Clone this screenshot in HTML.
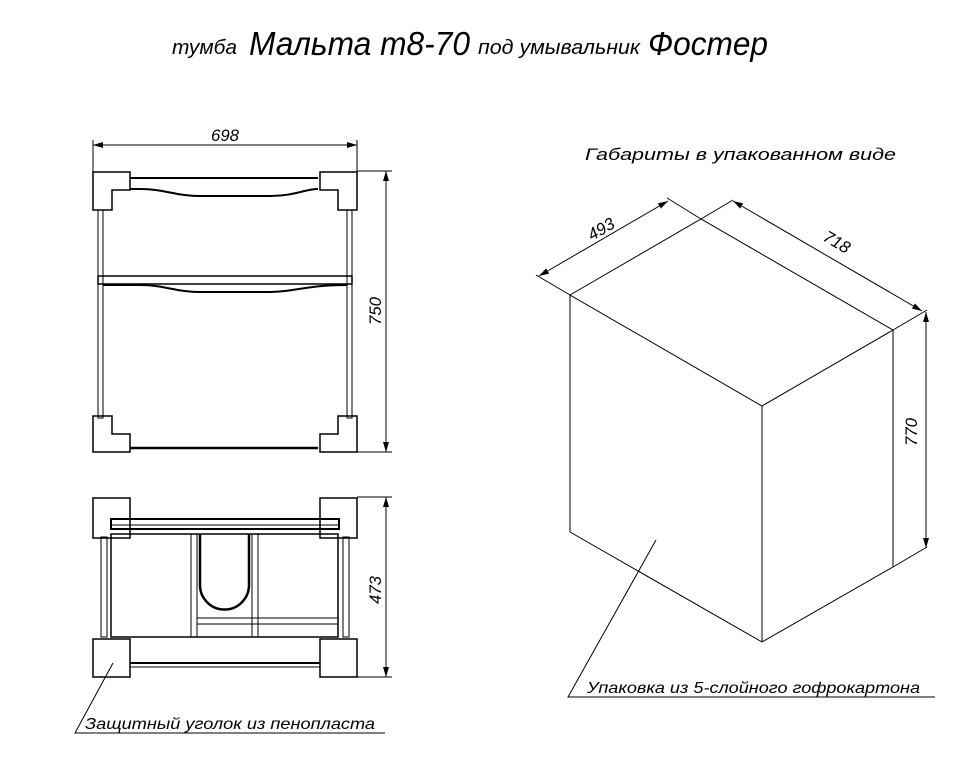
<!DOCTYPE html>
<html><head><meta charset="utf-8"><style>
html,body{margin:0;padding:0;background:#fff;}
svg{display:block;font-family:"Liberation Sans","Noto Sans CJK SC",sans-serif;font-style:italic;}
</style></head><body>
<svg width="980" height="761" viewBox="0 0 980 761" xmlns="http://www.w3.org/2000/svg">
<defs>
<marker id="ar" viewBox="0 0 10 6" refX="10" refY="3" markerWidth="10" markerHeight="6" orient="auto-start-reverse" markerUnits="userSpaceOnUse"><path d="M0,0 L10,3 L0,6 z" fill="#000"/></marker>
</defs>
<rect width="980" height="761" fill="#fff"/>
<!-- title -->
<text x="172" y="54" font-size="20" textLength="65" lengthAdjust="spacingAndGlyphs">тумба</text>
<text x="249" y="55" font-size="33" textLength="221" lengthAdjust="spacingAndGlyphs">Мальта т8-70</text>
<text x="478" y="54" font-size="20" textLength="162" lengthAdjust="spacingAndGlyphs">под умывальник</text>
<text x="648" y="55" font-size="33" textLength="120" lengthAdjust="spacingAndGlyphs">Фостер</text>
<text x="585" y="160" font-size="17" textLength="311" lengthAdjust="spacingAndGlyphs">Габариты в упакованном виде</text>

<g stroke="#000" fill="none" stroke-width="1">
<!-- top view dims -->
<line x1="93" y1="140" x2="93" y2="172"/><line x1="357" y1="140" x2="357" y2="172"/>
<line x1="93" y1="145" x2="357" y2="145" marker-start="url(#ar)" marker-end="url(#ar)"/>
<line x1="357" y1="171" x2="392" y2="171"/><line x1="357" y1="452" x2="392" y2="452"/>
<line x1="386" y1="171" x2="386" y2="452" marker-start="url(#ar)" marker-end="url(#ar)"/>
<!-- top view body -->
<line x1="130" y1="178" x2="318" y2="178" stroke-width="2"/>
<path d="M130,189 L140,189 C165,189 175,196 200,196 L270,196 C295,196 305,189 318,189" stroke-width="2"/>
<rect x="98" y="210" width="5" height="208"/><rect x="347" y="210" width="5" height="208"/>
<rect x="98" y="276" width="254" height="8" stroke-width="1.5"/>
<line x1="103" y1="276" x2="103" y2="284"/><line x1="347" y1="276" x2="347" y2="284"/>
<path d="M103,285 L140,285 C165,285 175,292 200,292 L270,292 C295,292 305,285 347,285" stroke-width="2"/>
<line x1="130" y1="448" x2="318" y2="448" stroke-width="2.5"/>
<!-- corners top -->
<path d="M93,172 H130 V190 H112 V210 H93 Z" stroke-width="1.5"/>
<path d="M357,172 H320 V190 H338 V210 H357 Z" stroke-width="1.5"/>
<path d="M93,452 H130 V434 H112 V416 H93 Z" stroke-width="1.5"/>
<path d="M357,452 H320 V434 H338 V416 H357 Z" stroke-width="1.5"/>

<!-- bottom view -->
<line x1="357" y1="497" x2="392" y2="497"/><line x1="357" y1="677" x2="392" y2="677"/>
<line x1="386" y1="497" x2="386" y2="677" marker-start="url(#ar)" marker-end="url(#ar)"/>
<rect x="93" y="498" width="37" height="40" stroke-width="1.5"/>
<rect x="320" y="498" width="37" height="40" stroke-width="1.5"/>
<rect x="93" y="639" width="37" height="38" stroke-width="1.5"/>
<rect x="320" y="639" width="37" height="38" stroke-width="1.5"/>
<rect x="111" y="519" width="228" height="10" stroke-width="2"/>
<line x1="111" y1="525" x2="339" y2="525"/>
<rect x="111" y="534" width="227" height="103" stroke-width="1.5"/>
<rect x="101" y="537" width="6" height="100"/><rect x="343" y="537" width="6" height="100"/>
<line x1="191" y1="534" x2="191" y2="637"/><line x1="197" y1="534" x2="197" y2="637"/>
<line x1="252" y1="534" x2="252" y2="637"/><line x1="258" y1="534" x2="258" y2="637"/>
<path d="M200,534 V585 A22,22 0 0 0 249,585 V534" stroke-width="2.5"/>
<line x1="197" y1="618" x2="338" y2="618"/><line x1="197" y1="624" x2="338" y2="624"/>
<line x1="130" y1="663" x2="320" y2="663" stroke-width="2"/>
<line x1="130" y1="667" x2="320" y2="667"/>
<!-- leader left -->
<polyline points="113,663 75,733 385,733"/>

<!-- box -->
<path d="M570,295 L701,219 L893,330 L762,406 Z"/>
<line x1="570" y1="295" x2="570" y2="532"/>
<line x1="762" y1="406" x2="762" y2="642"/>
<line x1="893" y1="330" x2="893" y2="567"/>
<line x1="570" y1="532" x2="762" y2="642"/>
<line x1="762" y1="642" x2="893" y2="567"/>
<!-- dims box -->
<line x1="570" y1="295" x2="536" y2="275"/>
<line x1="701" y1="219" x2="667" y2="198"/>
<line x1="539" y1="276" x2="668" y2="201" marker-start="url(#ar)" marker-end="url(#ar)"/>
<line x1="701" y1="219" x2="733" y2="200"/>
<line x1="893" y1="330" x2="927" y2="310"/>
<line x1="733" y1="201" x2="922" y2="311" marker-start="url(#ar)" marker-end="url(#ar)"/>
<line x1="893" y1="567" x2="927" y2="547"/>
<line x1="926" y1="312" x2="926" y2="548" marker-start="url(#ar)" marker-end="url(#ar)"/>
<polyline points="656,540 568,697 935,697"/>
</g>

<g font-size="17">
<text x="225" y="141" text-anchor="middle" textLength="28" lengthAdjust="spacingAndGlyphs">698</text>
<text transform="translate(381,311) rotate(-90)" text-anchor="middle" textLength="28" lengthAdjust="spacingAndGlyphs">750</text>
<text transform="translate(381,590) rotate(-90)" text-anchor="middle" textLength="28" lengthAdjust="spacingAndGlyphs">473</text>
<text transform="translate(604,234) rotate(-30)" text-anchor="middle" textLength="28" lengthAdjust="spacingAndGlyphs">493</text>
<text transform="translate(834,247) rotate(30)" text-anchor="middle" textLength="28" lengthAdjust="spacingAndGlyphs">718</text>
<text transform="translate(917,432) rotate(-90)" text-anchor="middle" textLength="28" lengthAdjust="spacingAndGlyphs">770</text>
<text x="587" y="693" font-size="16" textLength="333" lengthAdjust="spacingAndGlyphs">Упаковка из 5-слойного гофрокартона</text>
<text x="85" y="729" font-size="16" textLength="290" lengthAdjust="spacingAndGlyphs">Защитный уголок из пенопласта</text>
</g>
</svg>
</body></html>
